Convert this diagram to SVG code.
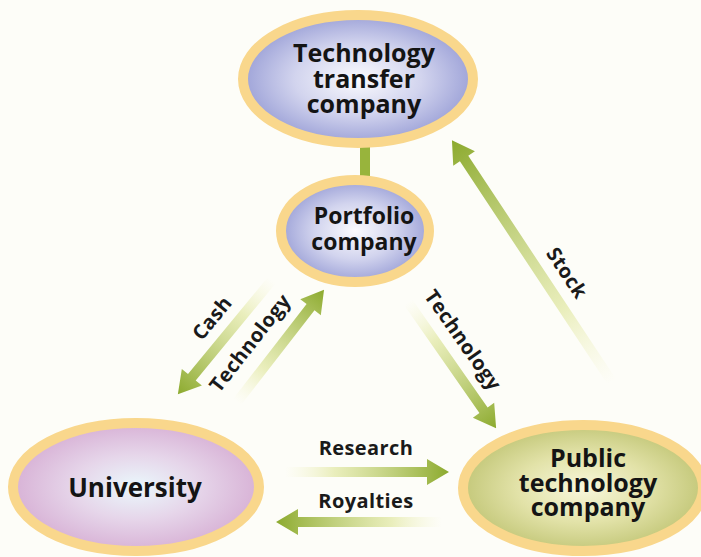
<svg xmlns="http://www.w3.org/2000/svg" width="701" height="557" viewBox="0 0 701 557">
  <defs>
    <radialGradient id="gBlue" cx="0.5" cy="0.5" r="0.5">
      <stop offset="0" stop-color="#fbfbfe"/>
      <stop offset="0.55" stop-color="#d2d4ee"/>
      <stop offset="1" stop-color="#9ea3d8"/>
    </radialGradient>
    <radialGradient id="gPink" cx="0.5" cy="0.5" r="0.5">
      <stop offset="0" stop-color="#eaf8fc"/>
      <stop offset="0.5" stop-color="#e6d6ea"/>
      <stop offset="1" stop-color="#d8b2d6"/>
    </radialGradient>
    <radialGradient id="gOlive" cx="0.5" cy="0.5" r="0.5">
      <stop offset="0" stop-color="#f8f7dc"/>
      <stop offset="0.55" stop-color="#e2e2a8"/>
      <stop offset="1" stop-color="#c4c87a"/>
    </radialGradient>
    <linearGradient id="gArrow" x1="0" y1="0" x2="1" y2="0">
      <stop offset="0" stop-color="#f4f4cc" stop-opacity="0"/>
      <stop offset="0.3" stop-color="#e3e9a8" stop-opacity="0.75"/>
      <stop offset="1" stop-color="#8caa2e"/>
    </linearGradient>
    <style>
      .ring { stroke: #f9d78c; stroke-width: 10; }
      .node { font-family: "Open Sans", "Liberation Sans", sans-serif; font-weight: bold; fill: #141414; text-anchor: middle; }
      .lbl { font-family: "Open Sans", "Liberation Sans", sans-serif; font-weight: bold; font-size: 20px; letter-spacing: 0.4px; fill: #1a1a1a; text-anchor: middle; }
      .arrow { fill: url(#gArrow); }
    </style>
  </defs>

  <rect width="701" height="557" fill="#fdfdf8"/>

  <g id="connectors">
    <!-- link between transfer company and portfolio company -->
    <rect x="360" y="146" width="10" height="34" fill="#98b43c"/>
    <!-- Stock -->
    <path class="arrow" transform="translate(612,382) rotate(-123.5)" d="M0,-5 L268,-5 L268,-13 L290,0 L268,13 L268,5 L0,5 Z"/>
    <!-- Cash -->
    <path class="arrow" transform="translate(272,280) rotate(129.5)" d="M0,-5 L126,-5 L126,-13 L148,0 L126,13 L126,5 L0,5 Z"/>
    <!-- Technology: university to portfolio -->
    <path class="arrow" transform="translate(237,402) rotate(-52.2)" d="M0,-5 L120,-5 L120,-13 L142,0 L120,13 L120,5 L0,5 Z"/>
    <!-- Technology: portfolio to public -->
    <path class="arrow" transform="translate(408,302) rotate(55.1)" d="M0,-5 L132,-5 L132,-13 L154,0 L132,13 L132,5 L0,5 Z"/>
    <!-- Research -->
    <path class="arrow" transform="translate(285,472)" d="M0,-5 L142,-5 L142,-13 L164,0 L142,13 L142,5 L0,5 Z"/>
    <!-- Royalties -->
    <path class="arrow" transform="translate(442,522) rotate(180)" d="M0,-5 L144,-5 L144,-13 L166,0 L144,13 L144,5 L0,5 Z"/>

    <text class="lbl" transform="translate(567,273) rotate(56.5)" dy="7">Stock</text>
    <text class="lbl" transform="translate(212,318) rotate(-50.5)" dy="7">Cash</text>
    <text class="lbl" transform="translate(250,343) rotate(-52)" dy="7">Technology</text>
    <text class="lbl" transform="translate(463,340) rotate(55)" dy="7">Technology</text>
    <text class="lbl" x="366" y="455">Research</text>
    <text class="lbl" x="366" y="508">Royalties</text>
  </g>

  <g id="tech-transfer">
    <ellipse class="ring" cx="358" cy="79" rx="115" ry="64" fill="url(#gBlue)"/>
    <text class="node" font-size="25" x="364" y="62">Technology</text>
    <text class="node" font-size="25" x="364" y="88">transfer</text>
    <text class="node" font-size="25" x="364" y="113">company</text>
  </g>

  <g id="portfolio">
    <ellipse class="ring" cx="355" cy="231" rx="74" ry="51" fill="url(#gBlue)"/>
    <text class="node" font-size="23" x="364" y="224">Portfolio</text>
    <text class="node" font-size="23" x="364" y="250">company</text>
  </g>

  <g id="university">
    <ellipse class="ring" cx="136" cy="487" rx="123" ry="64" fill="url(#gPink)"/>
    <text class="node" font-size="26" x="135" y="497">University</text>
  </g>

  <g id="public">
    <ellipse class="ring" cx="583" cy="488" rx="120" ry="63" fill="url(#gOlive)"/>
    <text class="node" font-size="25" x="588" y="467">Public</text>
    <text class="node" font-size="25" x="588" y="492">technology</text>
    <text class="node" font-size="25" x="588" y="516">company</text>
  </g>
</svg>
